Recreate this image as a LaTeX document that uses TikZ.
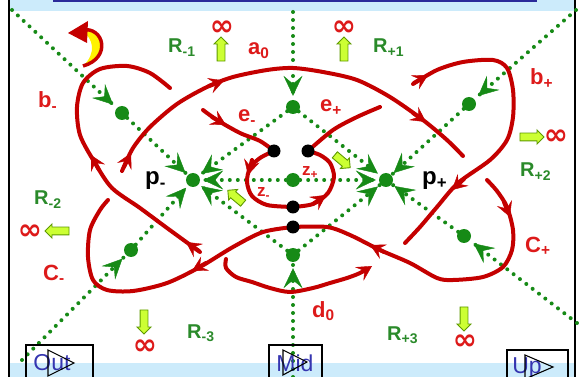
\documentclass[tikz,border=0pt]{standalone}
\usepackage{fontspec}
\setmainfont{Liberation Sans}
\newfontfamily\symfont{DejaVu Sans}
\usetikzlibrary{arrows.meta,decorations.markings,shapes.arrows,backgrounds}
\definecolor{flowred}{HTML}{C40000}
\definecolor{labelred}{HTML}{DD1A1A}
\definecolor{sepgreen}{HTML}{168A16}
\definecolor{regiongreen}{HTML}{2A8A2A}
\definecolor{hintlime}{HTML}{CCFF33}
\definecolor{hintedge}{HTML}{5E9A00}
\definecolor{barblue}{HTML}{CCEBFB}
\definecolor{navyline}{HTML}{2A2A9A}
\definecolor{btnblue}{HTML}{3535B0}
\definecolor{iconyellow}{HTML}{FFF200}
\newcommand{\low}[1]{\textsubscript{#1}}

\begin{document}
\begin{tikzpicture}[x=1pt, y=-1pt,
  every node/.style={inner sep=0pt},
  sepline/.style={line width=4pt, sepgreen, line cap=round, dash pattern=on 0pt off 8pt},
  gtip/.style={postaction={decorate, decoration={markings, mark=at position #1 with {\arrow[sepgreen]{Stealth[length=20pt,width=19pt,inset=8pt,line width=0.4pt]}}}}},
  traj/.style={flowred, line width=4pt, line cap=round, line join=round},
  rarr/.style={flowred, line width=4pt, line cap=round, -{Stealth[length=15pt,width=16pt,inset=6pt,line width=0.4pt]}},
  gdot/.style={circle, fill=sepgreen, minimum size=14pt},
  bdot/.style={circle, fill=black, minimum size=13pt},
  hint/.style={single arrow, fill=hintlime, draw=hintedge, line width=0.9pt, inner sep=3.5pt, minimum height=24pt, single arrow head extend=3pt},
  reglab/.style={font=\fontsize{20}{22}\selectfont\bfseries, text=regiongreen, anchor=base west},
  trlab/.style={font=\fontsize{22}{24}\selectfont\bfseries, text=labelred, anchor=base west},
  zlab/.style={font=\fontsize{17}{18}\selectfont\bfseries, text=labelred, anchor=base west},
  ptlab/.style={font=\fontsize{24}{26}\selectfont\bfseries, anchor=base west},
  inflab/.style={font=\fontsize{29}{30}\selectfont\symfont\bfseries, text=labelred},
  btnlab/.style={font=\fontsize{23}{24}\selectfont, text=btnblue},
  btnframe/.style={draw=black, line width=1.4pt},
  playtri/.style={draw=black, line width=1.1pt, line join=miter}]
  \useasboundingbox (0,0) rectangle (579,377);

  % fixed points
  \node[gdot] (bm) at (122,113) {};
  \node[gdot] (bp) at (469,104) {};
  \node[gdot] (cm) at (131,250) {};
  \node[gdot] (cp) at (464,236) {};
  \node[gdot] (atop) at (293,107) {};
  \node[gdot] (dbot) at (293,255) {};
  \node[gdot] (zc) at (293,180) {};
  \node[gdot] (pm) at (193,180) {};
  \node[gdot] (pp) at (386,180) {};
  \node[bdot] (ul) at (274,151) {};
  \node[bdot] (ur) at (308,151) {};
  \node[bdot] (bk1) at (293,207) {};
  \node[bdot] (bk2) at (293,227) {};

  \coordinate (tl) at (12,10);
  \coordinate (tr) at (576,10);
  \coordinate (bl) at (22,360);
  \coordinate (br) at (577,323);
  \coordinate (topv) at (293,12);
  \coordinate (botv) at (293,377);

  \begin{scope}[on background layer]
    % bars and frame
    \fill[barblue] (10,0) rectangle (575,11);
    \fill[barblue] (10,363) rectangle (575,377);
    \draw[navyline, line width=2pt] (53,1) -- (537,1);
    \draw[line width=2pt] (9,0) -- (9,377);
    \draw[line width=2pt] (575,0) -- (575,377);

    % separatrices
    \draw[sepline, gtip=-5pt] (tl) -- (bm);
    \draw[sepline, gtip=-3pt] (bm) -- (pm);
    \draw[sepline, gtip=-5pt] (bl) -- (cm);
    \draw[sepline, gtip=-3pt] (cm) -- (pm);
    \draw[sepline, gtip=-5pt] (tr) -- (bp);
    \draw[sepline, gtip=-3pt] (bp) -- (pp);
    \draw[sepline, gtip=-5pt] (br) -- (cp);
    \draw[sepline, gtip=-3pt] (cp) -- (pp);
    \draw[sepline, gtip=-4pt] (topv) -- (atop);
    \draw[sepline, gtip=-6pt] (botv) -- (dbot);
    \draw[sepline, gtip=-3pt] (atop) -- (pm);
    \draw[sepline, gtip=-3pt] (atop) -- (pp);
    \draw[sepline, gtip=-3pt] (dbot) -- (pm);
    \draw[sepline, gtip=-3pt] (dbot) -- (pp);
    \draw[sepline, gtip=-3pt] (zc) -- (pm);
    \draw[sepline, gtip=-3pt] (zc) -- (pp);

    % trajectories
    \draw[traj] plot[smooth] coordinates {(122,171) (133,148) (150,127) (177,104) (207,87) (233,77) (267,70) (293,68) (323,72) (357,80) (390,97) (423,120) (447,140) (463,156)};
    \draw[rarr] (124,167) -- (131,153);
    \draw[rarr] (209,86) -- (224,80.5);
    \draw[rarr] (413,113) -- (426,122);
    \draw[traj] plot[smooth] coordinates {(200,252) (167,228) (140,208) (112,188) (95,163) (80,135) (77,107) (83,83) (100,69) (127,66) (150,73) (170,88)};
    \draw[rarr] (199,251) -- (186,242);
    \draw[rarr] (98.5,169) -- (91,155);
    \draw[traj] plot[smooth] coordinates {(413,84) (437,70) (463,62) (493,60) (507,68) (513,90) (513,117) (507,140) (490,160) (458,183) (437,207) (420,227) (405,243)};
    \draw[rarr] (414,83) -- (428,75);
    \draw[rarr] (464,179) -- (452,190);
    \draw[traj] plot[smooth] coordinates {(487,180) (497,191) (507,207) (513,230) (512,250) (503,267) (483,277) (453,280) (437,278) (410,263) (380,250) (350,235) (327,227) (bk2.center)};
    \draw[rarr] (504,202) -- (510,217);
    \draw[rarr] (384,252) -- (370,245);
    \draw[traj] plot[smooth] coordinates {(bk2.center) (263,232) (233,247) (200,267) (167,283) (133,291) (107,290) (93,280) (88,257) (90,230) (100,210) (108,200)};
    \draw[rarr] (206,263) -- (192,271);
    \draw[traj] plot[smooth] coordinates {(203,110) (217,120) (240,133) (260,141) (ul.center)};
    \draw[rarr] (212,117) -- (226,125);
    \draw[traj] plot[smooth] coordinates {(ul.center) (260,158) (250,168) (247,182) (252,196) (267,205) (bk1.center)};
    \draw[rarr] (252,160) -- (248,175);
    \draw[traj] plot[smooth] coordinates {(bk1.center) (313,204) (328,193) (334,177) (330,163) (320,155) (ur.center)};
    \draw[rarr] (313,204) -- (326,195);
    \draw[traj] plot[smooth] coordinates {(ur.center) (333,130) (357,117) (380,107)};
    \draw[traj, -{Stealth[length=15pt,width=16pt,inset=6pt,line width=0.4pt]}] plot[smooth] coordinates {(226,259) (226,268) (236,277) (252,282) (270,288) (290,292) (313,288) (330,283) (347,278) (360,273) (372,266)};
  \end{scope}

  % back icon
  \fill[iconyellow] (80,30) .. controls (104,26) and (112,58) .. (83,66) .. controls (96,54) and (95,38) .. (80,30) -- cycle;
  \draw[flowred, line width=3.5pt] (82,30) .. controls (104,26) and (112,58) .. (83,66);
  \fill[flowred] (68,33) -- (88,21) -- (87,43) -- cycle;

  % hints towards infinity
  \node[hint, rotate=90] (upl) at (221,51) {};
  \node[hint, rotate=90] (upr) at (344,51) {};
  \node[hint] (rgt) at (530,137) {};
  \node[hint, rotate=180] (lft) at (59,231) {};
  \node[hint, rotate=-90] (dnl) at (144,320) {};
  \node[hint, rotate=-90] (dnr) at (464,317) {};
  \node[hint, rotate=-40, minimum height=20pt] (dgp) at (341,160) {};
  \node[hint, rotate=140, minimum height=20pt] (dgm) at (237,198) {};
  \node[inflab] (infa) at (222,28) {∞};
  \node[inflab] (infb) at (344,28) {∞};
  \node[inflab] (infc) at (556,137) {∞};
  \node[inflab] (infd) at (30,232) {∞};
  \node[inflab] (infe) at (145,347) {∞};
  \node[inflab] (inff) at (465,342) {∞};

  % labels
  \node[reglab] (rm1) at (168,53) {R\low{-1}};
  \node[trlab] (a0) at (248,55) {a\low{0}};
  \node[reglab] (rp1) at (373,53) {R\low{+1}};
  \node[trlab] (bml) at (38,108) {b\low{-}};
  \node[trlab] (bpl) at (530,85) {b\low{+}};
  \node[trlab] (eml) at (238,122) {e\low{-}};
  \node[trlab] (epl) at (320,112) {e\low{+}};
  \node[ptlab] (pml) at (145,185) {p\low{-}};
  \node[ptlab] (ppl) at (422,185) {p\low{+}};
  \node[zlab] (zpl) at (302,176) {z\low{+}};
  \node[zlab] (zml) at (257,197) {z\low{-}};
  \node[reglab] (rp2) at (520,177) {R\low{+2}};
  \node[reglab] (rm2) at (34,205) {R\low{-2}};
  \node[trlab] (cml) at (43,280) {C\low{-}};
  \node[trlab] (cpl) at (525,252) {C\low{+}};
  \node[trlab] (d0) at (312,317) {d\low{0}};
  \node[reglab] (rm3) at (187,338) {R\low{-3}};
  \node[reglab] (rp3) at (387,340) {R\low{+3}};

  % buttons
  \draw[btnframe] (26,377) |- (93,345) -- (93,377);
  \node[btnlab] (out) at (52,363) {Out};
  \draw[playtri] (48,350) -- (74,363) -- (48,376) -- cycle;
  \draw[btnframe] (269,377) |- (322,345) -- (322,377);
  \node[btnlab] (mid) at (295,363) {Mid};
  \draw[playtri] (283,350) -- (307,362) -- (283,375) -- cycle;
  \draw[btnframe] (507,377) |- (568,350) -- (568,377);
  \node[btnlab] (up) at (527,368) {Up};
  \draw[playtri] (525,355) -- (553,367) -- (525,379) -- cycle;
\end{tikzpicture}
\end{document}
